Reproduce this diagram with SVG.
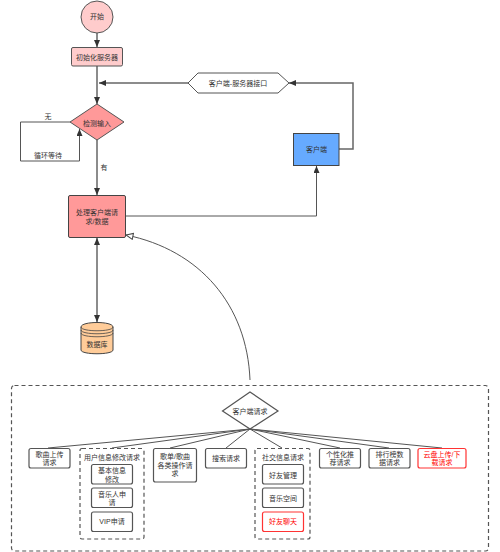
<svg xmlns="http://www.w3.org/2000/svg" width="500" height="552" viewBox="0 0 500 552">
<style>
text{font-family:"Liberation Sans","Noto Sans CJK SC",sans-serif;font-size:7px;fill:#333;text-anchor:middle}
.n{fill:#fff;stroke:#555;stroke-width:1.200}
.r{fill:#fff;stroke:#f33;stroke-width:1.200}
text.rt{fill:#f00}
.d{fill:none;stroke:#555;stroke-width:1.200;stroke-dasharray:4 3}
.c{fill:none;stroke:#555;stroke-width:1}
.b{fill:none;stroke:#666;stroke-width:1.500}
</style>
<defs>
<marker id="a" markerUnits="userSpaceOnUse" markerWidth="8" markerHeight="7" refX="7" refY="3" orient="auto-start-reverse"><path d="M0 0L7 3L0 6Z" fill="#333"/></marker>
<marker id="o" markerUnits="userSpaceOnUse" markerWidth="10" markerHeight="8" refX="8" refY="4" orient="auto"><path d="M1 1L8 4L1 7Z" fill="#fff" stroke="#444"/></marker>
</defs>
<g id="connectors">
<path class="b" d="M97 33V47" marker-end="url(#a)"/>
<path class="b" d="M97 66V104" marker-end="url(#a)"/>
<path class="b" d="M188 83H99" marker-end="url(#a)"/>
<path class="c" d="M70 122H20.500V161H79.500V129" marker-end="url(#a)"/>
<path class="b" d="M97 140V195" marker-end="url(#a)"/>
<path class="c" d="M125.500 216H316.500V166" marker-end="url(#a)"/>
<path class="b" d="M339 149H353V83H289" marker-end="url(#a)"/>
<path class="b" d="M97 238V322" marker-start="url(#a)" marker-end="url(#a)"/>
<path class="c" d="M250 380C247 305 200 250 126 235" marker-end="url(#o)"/>
<path class="c" d="M250 429L48 448M250 429L112 448M250 429L170 448M250 429L226 448M250 429L282 448M250 429L340 448M250 429L389 448M250 429L442 448"/>
</g>
<g id="start"><circle cx="97" cy="17" r="16" fill="#fcc" stroke="#555"/><text x="97" y="19.200">开始</text></g>
<g id="init"><rect x="71.500" y="47.500" width="51" height="18.500" rx="1.500" fill="#fcc" stroke="#555"/><text x="97" y="59.500">初始化服务器</text></g>
<g id="iface"><path d="M188 83L198 73H278L289 83L278 93H198Z" fill="#fff" stroke="#555"/><text x="238" y="85.500">客户端-服务器接口</text></g>
<g id="detect"><path d="M97 104L124 122L97 140L70 122Z" fill="#f99" stroke="#555"/><text x="97" y="125.500">检测输入</text></g>
<g id="labels"><text x="48" y="118.500">无</text><text x="48" y="157.500">循环等待</text><text x="104" y="170">有</text></g>
<g id="process"><rect x="68.500" y="195.500" width="57" height="42" rx="1.500" fill="#f99" stroke="#444"/><text x="97" y="215.200">处理客户端请</text><text x="97" y="223.500">求/数据</text></g>
<g id="client"><rect x="293.500" y="133.500" width="45.500" height="32" fill="#6af" stroke="#444"/><text x="316.500" y="152">客户端</text></g>
<g id="db"><path d="M81 327C81 321 113 321 113 327V350C113 355 81 355 81 350Z" fill="#fc9" stroke="#444"/><path d="M81 327C81 332 113 332 113 327M81 330C81 335 113 335 113 330M81 333C81 338 113 338 113 333" fill="none" stroke="#444" stroke-width=".8"/><text x="97" y="346.500">数据库</text></g>
<g id="client-requests"><rect class="d" x="11.500" y="385.500" width="477" height="165.500" rx="3"/></g>
<g id="req"><path class="n" d="M250 392L278 411L250 429L222.500 411Z"/><text x="250" y="414">客户端请求</text></g>
<g id="r1"><rect class="n" x="29" y="448.500" width="41" height="19.500" rx="2"/><text x="49.500" y="456.500">歌曲上传</text><text x="49.500" y="465">请求</text></g>
<g id="user"><rect class="d" x="80" y="448.500" width="64" height="90.500" rx="2"/><text x="112" y="459.500">用户信息修改请求</text>
<rect class="n" x="91.500" y="464.500" width="41" height="19.500" rx="2"/><text x="112" y="473.200">基本信息</text><text x="112" y="481.500">修改</text>
<rect class="n" x="91.500" y="488" width="41" height="19.500" rx="2"/><text x="112" y="496.500">音乐人申</text><text x="112" y="505">请</text>
<rect class="n" x="91.500" y="512" width="41" height="19.500" rx="2"/><text x="112" y="524">VIP申请</text></g>
<g id="r3"><rect class="n" x="153.500" y="448.500" width="43" height="33.500" rx="2"/><text x="175" y="459.200">歌单/歌曲</text><text x="175" y="467.500">各类操作请</text><text x="175" y="476">求</text></g>
<g id="r4"><rect class="n" x="205.500" y="448.500" width="41" height="19.500" rx="2"/><text x="226" y="460.500">搜索请求</text></g>
<g id="social"><rect class="d" x="255" y="448.500" width="55" height="90.500" rx="2"/><text x="283" y="459.500">社交信息请求</text>
<rect class="n" x="262.500" y="464.500" width="41" height="19.500" rx="2"/><text x="283" y="477.500">好友管理</text>
<rect class="n" x="262.500" y="488" width="41" height="19.500" rx="2"/><text x="283" y="501">音乐空间</text>
<rect class="r" x="262.500" y="512" width="41" height="19.500" rx="2"/><text class="rt" x="283" y="524">好友聊天</text></g>
<g id="r6"><rect class="n" x="319.500" y="448.500" width="41" height="19.500" rx="2"/><text x="340" y="456.500">个性化推</text><text x="340" y="465">荐请求</text></g>
<g id="r7"><rect class="n" x="369" y="448.500" width="41" height="19.500" rx="2"/><text x="389.500" y="456.500">排行榜数</text><text x="389.500" y="465">据请求</text></g>
<g id="r8"><rect class="r" x="418" y="448.500" width="48" height="19.500" rx="2"/><text class="rt" x="442" y="456.500">云盘上传/下</text><text class="rt" x="442" y="465">载请求</text></g>
</svg>
